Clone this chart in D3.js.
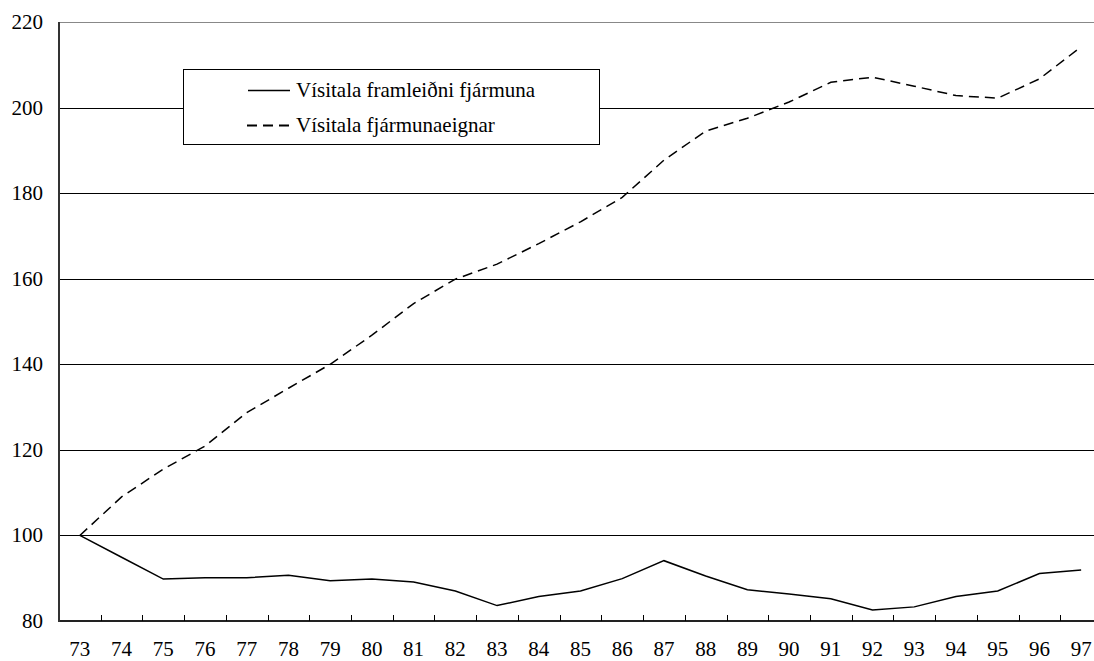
<!DOCTYPE html>
<html>
<head>
<meta charset="utf-8">
<script src="https://cdn.jsdelivr.net/npm/d3@7"></script>
<style>
  html, body { margin: 0; padding: 0; background: #fff; }
  svg { display: block; }
  text { font-family: "Liberation Serif", "Times New Roman", serif; fill: #000; }
</style>
</head>
<body>
<svg id="chart" width="1094" height="661"></svg>
<script>
const years = ["73","74","75","76","77","78","79","80","81","82","83","84","85","86","87","88","89","90","91","92","93","94","95","96","97"];
const framleidni = [100, 94.9, 89.8, 90.1, 90.1, 90.7, 89.4, 89.8, 89.1, 87.0, 83.6, 85.7, 87.0, 89.9, 94.1, 90.5, 87.3, 86.3, 85.2, 82.6, 83.3, 85.7, 87.0, 91.1, 91.9];
const eign = [100, 109.0, 115.5, 120.9, 128.7, 134.4, 140.0, 146.8, 154.2, 159.9, 163.4, 168.2, 173.3, 179.0, 187.7, 194.5, 197.5, 201.3, 205.9, 207.1, 205.0, 202.8, 202.2, 206.7, 214.2];
const yTicks = [80, 100, 120, 140, 160, 180, 200, 220];
const seriesNames = ["Vísitala framleiðni fjármuna", "Vísitala fjármunaeignar"];

(function () {
const svg = d3.select("#chart");
const mLeft = 59, mTop = 22, mBottom = 621;
const band = 41.72;
const fs = "21px";
const x = d3.scaleBand().domain(years).range([mLeft, mLeft + band * years.length]).paddingInner(0).paddingOuter(0);
const y = d3.scaleLinear().domain([80, 220]).range([mBottom, mTop]);
const cx = d => x(d) + x.bandwidth() / 2;

// gridlines
svg.append("g").selectAll("line").data(yTicks.filter(v => v > 80)).join("line")
  .attr("x1", mLeft).attr("x2", 1094)
  .attr("y1", d => Math.round(y(d)) + 0.5).attr("y2", d => Math.round(y(d)) + 0.5)
  .attr("stroke", d => d === 220 ? "#888" : "#000").attr("stroke-width", 1);

// y labels
svg.append("g").selectAll("text").data(yTicks).join("text")
  .attr("x", 43).attr("y", d => y(d))
  .attr("text-anchor", "end").attr("dominant-baseline", "central")
  .style("font-size", fs).text(d => d);

// x axis line
svg.append("line").attr("x1", mLeft).attr("x2", 1094).attr("y1", mBottom).attr("y2", mBottom)
  .attr("stroke", "#222").attr("stroke-width", 2);
// y axis line
svg.append("line").attr("x1", mLeft).attr("x2", mLeft).attr("y1", mTop).attr("y2", mBottom + 1)
  .attr("stroke", "#333").attr("stroke-width", 2);

// x ticks at band boundaries (upward)
svg.append("g").selectAll("line").data(years.slice(1)).join("line")
  .attr("x1", d => Math.round(x(d)) + 0.5).attr("x2", d => Math.round(x(d)) + 0.5)
  .attr("y1", mBottom).attr("y2", mBottom - 6)
  .attr("stroke", "#000").attr("stroke-width", 1);

// x labels
svg.append("g").selectAll("text").data(years).join("text")
  .attr("x", d => cx(d)).attr("y", 656)
  .attr("text-anchor", "middle")
  .style("font-size", fs).text(d => d);

const line = d3.line().x((d, i) => cx(years[i])).y(d => y(d));

// legend box
const lg = svg.append("g");
lg.append("rect").attr("x", 183.5).attr("y", 69.5).attr("width", 416).attr("height", 75)
  .attr("fill", "#fff").attr("stroke", "#000").attr("stroke-width", 1);
lg.append("line").attr("x1", 248).attr("x2", 290).attr("y1", 90.5).attr("y2", 90.5)
  .attr("stroke", "#000").attr("stroke-width", 1.5);
lg.append("line").attr("x1", 247).attr("x2", 291).attr("y1", 125.5).attr("y2", 125.5)
  .attr("stroke", "#000").attr("stroke-width", 2).attr("stroke-dasharray", "10,6");
lg.append("text").attr("x", 296).attr("y", 90).attr("dominant-baseline", "central")
  .style("font-size", fs).text(seriesNames[0]);
lg.append("text").attr("x", 296).attr("y", 125).attr("dominant-baseline", "central")
  .style("font-size", fs).text(seriesNames[1]);

svg.append("path").datum(eign).attr("d", line)
  .attr("fill", "none").attr("stroke", "#000").attr("stroke-width", 1.5)
  .attr("stroke-dasharray", "10,6");
svg.append("path").datum(framleidni).attr("d", line)
  .attr("fill", "none").attr("stroke", "#000").attr("stroke-width", 1.5);
})();
</script>
</body>
</html>
